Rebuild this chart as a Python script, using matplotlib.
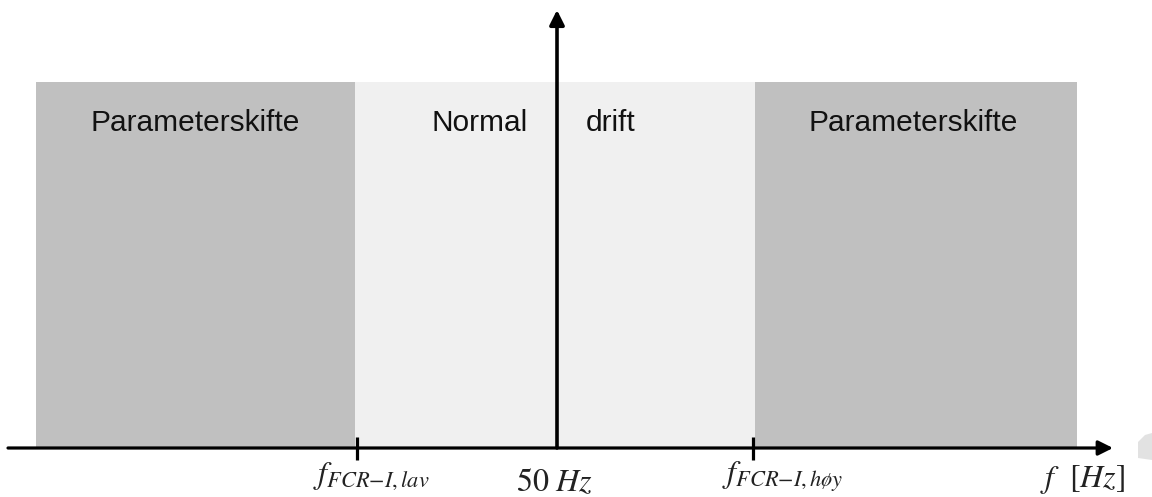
import matplotlib
matplotlib.use("Agg")
import matplotlib.pyplot as plt
from matplotlib.patches import Rectangle, Polygon

plt.rcParams['mathtext.fontset'] = 'stix'

# Schematic data (horizontal positions on the frequency axis, in figure pixel units)
zone_left = [36, 355, 755]
zone_right = [355, 755, 1077]
zone_colors = ['#c0c0c0', '#f0f0f0', '#c0c0c0']
zone_top = 82
axis_y = 448

zone_texts = ['Parameterskifte', 'Normal', 'drift', 'Parameterskifte']
zone_text_x = [195, 480, 611, 913]

tick_x = [357, 753]
bottom_labels = [r'$f_{FCR\mathrm{-}I,lav}$', r'$50\ Hz$', r'$f_{FCR\mathrm{-}I,h\o y}$', r'$f\ \ [Hz]$']
bottom_label_x = [313, 516, 722, 1040]
bottom_label_y = [483, 491, 483, 487]

center_x = 557
x_axis_start, x_axis_end = 8, 1113
y_axis_top = 10

fig = plt.figure(figsize=(11.52, 4.97), dpi=100)
ax = fig.add_axes([0, 0, 1, 1])
ax.set_xlim(0, 1152)
ax.set_ylim(497, 0)
ax.axis('off')

for l, r, c in zip(zone_left, zone_right, zone_colors):
    ax.add_patch(Rectangle((l, zone_top), r - l, axis_y - zone_top, facecolor=c, edgecolor='none', zorder=1))

for t, x in zip(zone_texts, zone_text_x):
    ax.text(x, 123, t, ha='center', va='center', fontsize=21.5,
            family='Liberation Sans', color='#111111', zorder=3)

ax.annotate('', xy=(x_axis_end, axis_y), xytext=(x_axis_start, axis_y),
            arrowprops=dict(arrowstyle='-|>', lw=2.3, color='black', mutation_scale=22,
                            shrinkA=0, shrinkB=0), zorder=4)
ax.annotate('', xy=(center_x, y_axis_top), xytext=(center_x, axis_y),
            arrowprops=dict(arrowstyle='-|>', lw=2.6, color='black', mutation_scale=22,
                            shrinkA=0, shrinkB=0), zorder=4)

for x in tick_x:
    ax.plot([x, x], [437, 460], color='black', lw=2.3, solid_capstyle='butt', zorder=4)

for t, x, y in zip(bottom_labels, bottom_label_x, bottom_label_y):
    ax.text(x, y, t, ha='left', va='baseline', fontsize=23, color='#222222', zorder=3)

# faint decorative shape at the right edge
ax.add_patch(Polygon([(1138, 458), (1138, 442), (1145, 435), (1152, 433), (1152, 460)],
                     closed=True, facecolor='#e2e2e2', edgecolor='none', zorder=1))

fig.savefig('out.png', dpi=100)
